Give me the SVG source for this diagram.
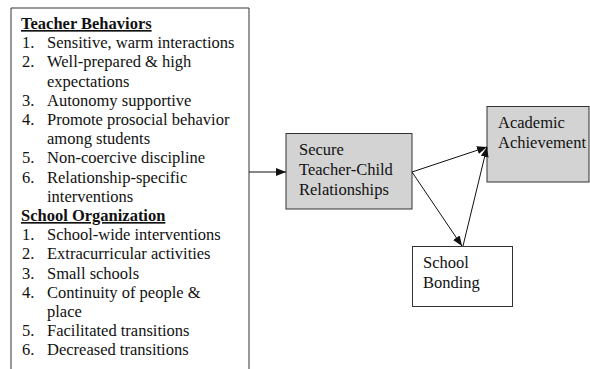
<svg xmlns="http://www.w3.org/2000/svg" width="590" height="369" viewBox="0 0 590 369">
<style>
text{font-family:"Liberation Serif","Times New Roman",serif;font-size:16.5px;fill:#111}
.h{font-weight:bold;text-decoration:underline}
.box{stroke:#333;stroke-width:1}
.grey{fill:#d3d3d3}
.white{fill:#fff}
.conn{stroke:#111;stroke-width:1;fill:none;marker-end:url(#ah)}
</style>
<defs>
<marker id="ah" markerWidth="10" markerHeight="8" refX="10" refY="4" orient="auto" markerUnits="userSpaceOnUse">
<path d="M0,0 L10,4 L0,8 Z" fill="#111"/>
</marker>
</defs>
<rect width="590" height="369" fill="#fff"/>
<g id="influences">
<path class="box" d="M11,369 V8 H249 V369" fill="#fff"/>
<text class="h" x="21" y="29">Teacher Behaviors</text>
<text x="22" y="48.2">1.</text><text x="47" y="48.2">Sensitive, warm interactions</text>
<text x="22" y="67.4">2.</text><text x="47" y="67.4">Well-prepared &amp; high</text>
<text x="47" y="86.6">expectations</text>
<text x="22" y="105.8">3.</text><text x="47" y="105.8">Autonomy supportive</text>
<text x="22" y="125">4.</text><text x="47" y="125">Promote prosocial behavior</text>
<text x="47" y="144.2">among students</text>
<text x="22" y="163.4">5.</text><text x="47" y="163.4">Non-coercive discipline</text>
<text x="22" y="182.6">6.</text><text x="47" y="182.6">Relationship-specific</text>
<text x="47" y="201.8">interventions</text>
<text class="h" x="21" y="221">School Organization</text>
<text x="22" y="240.2">1.</text><text x="47" y="240.2">School-wide interventions</text>
<text x="22" y="259.4">2.</text><text x="47" y="259.4">Extracurricular activities</text>
<text x="22" y="278.6">3.</text><text x="47" y="278.6">Small schools</text>
<text x="22" y="297.8">4.</text><text x="47" y="297.8">Continuity of people &amp;</text>
<text x="47" y="317">place</text>
<text x="22" y="336.2">5.</text><text x="47" y="336.2">Facilitated transitions</text>
<text x="22" y="355.4">6.</text><text x="47" y="355.4">Decreased transitions</text>
</g>
<g id="secure">
<rect class="box grey" x="286" y="133.5" width="126" height="75.5"/>
<text x="299" y="155">Secure</text>
<text x="299" y="175">Teacher-Child</text>
<text x="299" y="195">Relationships</text>
</g>
<g id="academic">
<rect class="box grey" x="487" y="106.5" width="102" height="75.5"/>
<text x="498" y="128">Academic</text>
<text x="498" y="148">Achievement</text>
</g>
<g id="bonding">
<rect class="box white" x="412.5" y="246.5" width="100" height="60"/>
<text x="423" y="268">School</text>
<text x="423" y="288">Bonding</text>
</g>
<g id="connectors">
<line class="conn" x1="249" y1="172" x2="286" y2="172"/>
<line class="conn" x1="412" y1="172" x2="487" y2="147"/>
<line class="conn" x1="412" y1="172" x2="462" y2="246"/>
<line class="conn" x1="463" y1="246" x2="487" y2="147"/>
</g>
</svg>
